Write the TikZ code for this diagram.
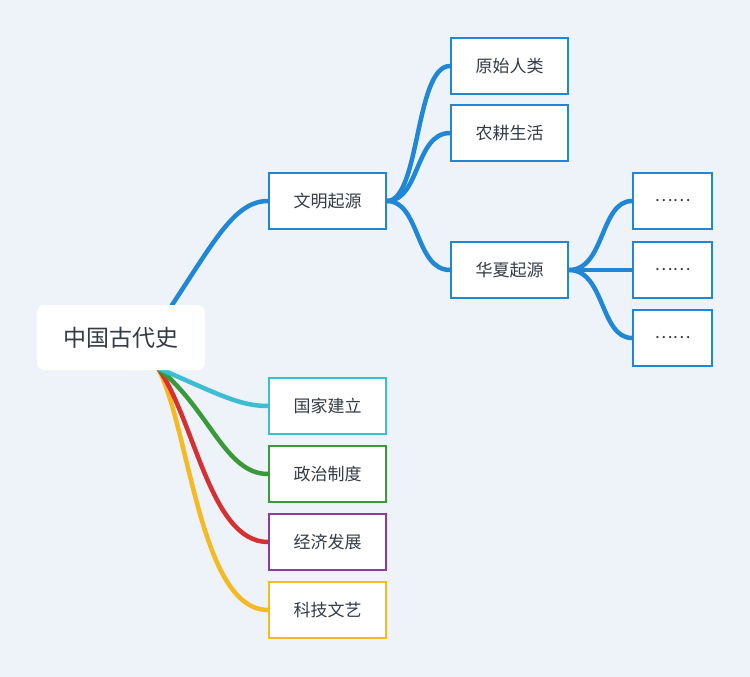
\documentclass[tikz,border=0pt]{standalone}
\usepackage{fontspec}
\newfontfamily\cjk{Noto Sans CJK SC}
\definecolor{bg}{HTML}{EEF2F9}
\definecolor{cb}{HTML}{1F87D6}
\definecolor{cc}{HTML}{3BBDD3}
\definecolor{cg}{HTML}{3A9A3A}
\definecolor{cp}{HTML}{8E3AA0}
\definecolor{cr}{HTML}{D63030}
\definecolor{cy}{HTML}{F5B921}
\definecolor{tx}{HTML}{333B45}
\begin{document}
\begin{tikzpicture}[x=1pt,y=-1pt,
 box/.style={draw=#1,line width=2pt,fill=white,minimum width=117pt,minimum height=56pt,font=\cjk\fontsize{17}{17}\selectfont,text=tx},
 sbox/.style={box=#1,minimum width=79pt},
 rootbox/.style={fill=white,rounded corners=8pt,minimum width=168pt,minimum height=65pt,font=\cjk\fontsize{23}{23}\selectfont,text=tx},
 ln/.style={draw=#1,line width=4.5pt,line cap=round}]
\fill[bg] (0,0) rectangle (750,677);
\useasboundingbox (0,0) rectangle (750,677);
\node[rootbox] (root) at (121,337.5) {中国古代史};
\coordinate (r1) at (172,305);
\coordinate (r2) at (158,368);
\node[box=cb] (a) at (327.5,201) {文明起源};
\node[box=cc] (b) at (327.5,406) {国家建立};
\node[box=cg] (c) at (327.5,474) {政治制度};
\node[box=cp] (d) at (327.5,542) {经济发展};
\node[box=cy] (e) at (327.5,610) {科技文艺};
\node[box=cb] (a1) at (509.5,66) {原始人类};
\node[box=cb] (a2) at (509.5,133) {农耕生活};
\node[box=cb] (a3) at (509.5,270) {华夏起源};
\node[sbox=cb] (x1) at (672.5,201) {……};
\node[sbox=cb] (x2) at (672.5,270) {……};
\node[sbox=cb] (x3) at (672.5,338) {……};
\draw[ln=cy] (r2) .. controls (190,430) and (200,610) .. (e.west);
\draw[ln=cr] (r2) .. controls (195,420) and (210,542) .. (d.west);
\draw[ln=cg] (r2) .. controls (210,410) and (225,474) .. (c.west);
\draw[ln=cc] (r2) .. controls (220,395) and (240,406) .. (b.west);
\draw[ln=cb] (r1) .. controls (215,240) and (235,201) .. (a.west);
\draw[ln=cb] (a.east) .. controls (420,201) and (415,66) .. (a1.west);
\draw[ln=cb] (a.east) .. controls (420,201) and (415,133) .. (a2.west);
\draw[ln=cb] (a.east) .. controls (420,201) and (415,270) .. (a3.west);
\draw[ln=cb] (a3.east) .. controls (605,270) and (600,201) .. (x1.west);
\draw[ln=cb] (a3.east) -- (x2.west);
\draw[ln=cb] (a3.east) .. controls (605,270) and (600,338) .. (x3.west);
\node[box=cb] at (a) {文明起源};
\node[box=cc] at (b) {国家建立};
\node[box=cg] at (c) {政治制度};
\node[box=cp] at (d) {经济发展};
\node[box=cy] at (e) {科技文艺};
\node[box=cb] at (a1) {原始人类};
\node[box=cb] at (a2) {农耕生活};
\node[box=cb] at (a3) {华夏起源};
\node[sbox=cb] at (x1) {……};
\node[sbox=cb] at (x2) {……};
\node[sbox=cb] at (x3) {……};
\node[rootbox] at (root) {中国古代史};
\end{tikzpicture}
\end{document}
